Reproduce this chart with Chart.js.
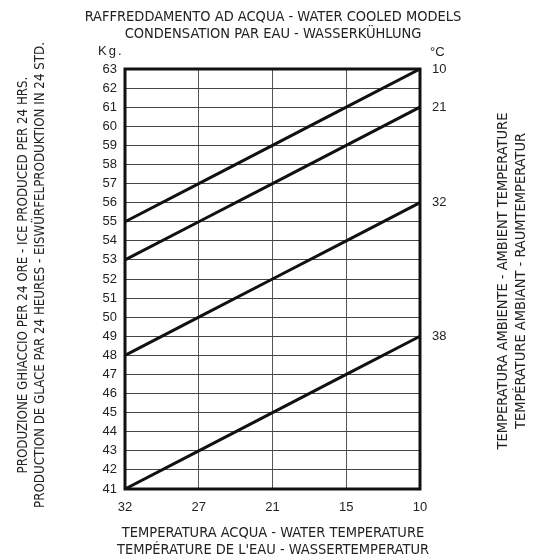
<!DOCTYPE html>
<html><head><meta charset="utf-8">
<script src="https://cdn.jsdelivr.net/npm/chart.js@4/dist/chart.umd.min.js"></script>
<style>html,body{margin:0;padding:0;background:#fff}#wrap{width:544px;height:559px}</style>
</head><body><div id="wrap"><canvas id="c" width="544" height="559"></canvas></div>
<script>
const waterTemps = ['32', '27', '21', '15', '10'];
const ambientTemps = ['10', '21', '32', '38'];
const ice10 = [55, 57, 59, 61, 63];
const ice21 = [53, 55, 57, 59, 61];
const ice32 = [48, 50, 52, 54, 56];
const ice38 = [41, 43, 45, 47, 49];
const yMin = 41, yMax = 63;
const titleLines = ['RAFFREDDAMENTO AD ACQUA - WATER COOLED MODELS', 'CONDENSATION PAR EAU - WASSERKÜHLUNG'];
const xTitleLines = ['TEMPERATURA ACQUA - WATER TEMPERATURE', "TEMPÉRATURE DE L'EAU - WASSERTEMPERATUR"];
const yTitleLines = ['PRODUZIONE GHIACCIO PER 24 ORE - ICE PRODUCED PER 24 HRS.', 'PRODUCTION DE GLACE PAR 24 HEURES - EISWÜRFELPRODUKTION IN 24 STD.'];
const rTitleLines = ['TEMPERATURA AMBIENTE - AMBIENT TEMPERATURE', 'TEMPÉRATURE AMBIANT - RAUMTEMPERATUR'];
const yUnit = 'Kg.';
const rUnit = '°C';

const NARROW = '"Liberation Sans Narrow", "Arial Narrow", "DejaVu Sans Condensed", sans-serif';
const SANS = '"Liberation Sans", Arial, sans-serif';

const seriesList = [ice10, ice21, ice32, ice38];
const datasets = seriesList.map((d, i) => ({
  label: ambientTemps[i], data: d, borderColor: '#111', borderWidth: 3,
  pointRadius: 0, fill: false, tension: 0
}));

const textPlugin = {
  id: 'texts',
  afterDraw(chart) {
    const ctx = chart.ctx, a = chart.chartArea, ys = chart.scales.y;
    ctx.save();
    // frame
    ctx.strokeStyle = '#111'; ctx.lineWidth = 3;
    ctx.strokeRect(a.left, a.top, a.right - a.left, a.bottom - a.top);
    ctx.fillStyle = '#222';
    // titles
    ctx.font = '14.5px ' + NARROW; ctx.textAlign = 'center'; ctx.textBaseline = 'middle';
    const cx = 273;
    ctx.fillText(titleLines[0], cx, 17);
    ctx.fillText(titleLines[1], cx, 34);
    ctx.fillText(xTitleLines[0], cx, a.bottom + 44);
    ctx.fillText(xTitleLines[1], cx, a.bottom + 61);
    // vertical titles
    ctx.font = '13.2px ' + NARROW;
    const cyL = 275;
    [[24, yTitleLines[0]], [41, yTitleLines[1]]].forEach(([x, t]) => {
      ctx.save(); ctx.translate(x, cyL); ctx.rotate(-Math.PI / 2); ctx.fillText(t, 0, 0); ctx.restore();
    });
    ctx.font = '14.5px ' + NARROW;
    const cyR = 281;
    [[503, rTitleLines[0]], [521, rTitleLines[1]]].forEach(([x, t]) => {
      ctx.save(); ctx.translate(x, cyR); ctx.rotate(-Math.PI / 2); ctx.fillText(t, 0, 0); ctx.restore();
    });
    // units
    ctx.font = '13px ' + SANS; ctx.textAlign = 'left';
    ctx.save(); ctx.letterSpacing = '2px';
    ctx.fillText(yUnit, a.left - 27, a.top - 18);
    ctx.restore();
    ctx.fillText(rUnit, a.right + 10, a.top - 17);
    // series labels at right end
    chart.data.datasets.forEach(ds => {
      const v = ds.data[ds.data.length - 1];
      ctx.fillText(ds.label, a.right + 12, ys.getPixelForValue(v));
    });
    ctx.restore();
  }
};

new Chart(document.getElementById('c'), {
  type: 'line',
  data: { labels: waterTemps, datasets },
  options: {
    responsive: false, animation: false,
    layout: { padding: { top: 69, right: 124, bottom: 40, left: 0 } },
    plugins: { legend: { display: false }, tooltip: { enabled: false }, title: { display: false } },
    scales: {
      x: {
        type: 'category', offset: false,
        grid: { color: '#555', lineWidth: 1, drawTicks: false },
        border: { display: false },
        ticks: { color: '#222', font: { family: SANS, size: 13 }, padding: 11, maxRotation: 0, autoSkip: false },
        afterFit(s) { s.height = 30; }
      },
      y: {
        min: yMin, max: yMax,
        grid: { color: '#444', lineWidth: 1, drawTicks: false },
        border: { display: false },
        ticks: { stepSize: 1, color: '#222', font: { family: SANS, size: 13 }, padding: 8 },
        afterFit(s) { s.width = 125; }
      }
    }
  },
  plugins: [textPlugin]
});
</script>
</body></html>
